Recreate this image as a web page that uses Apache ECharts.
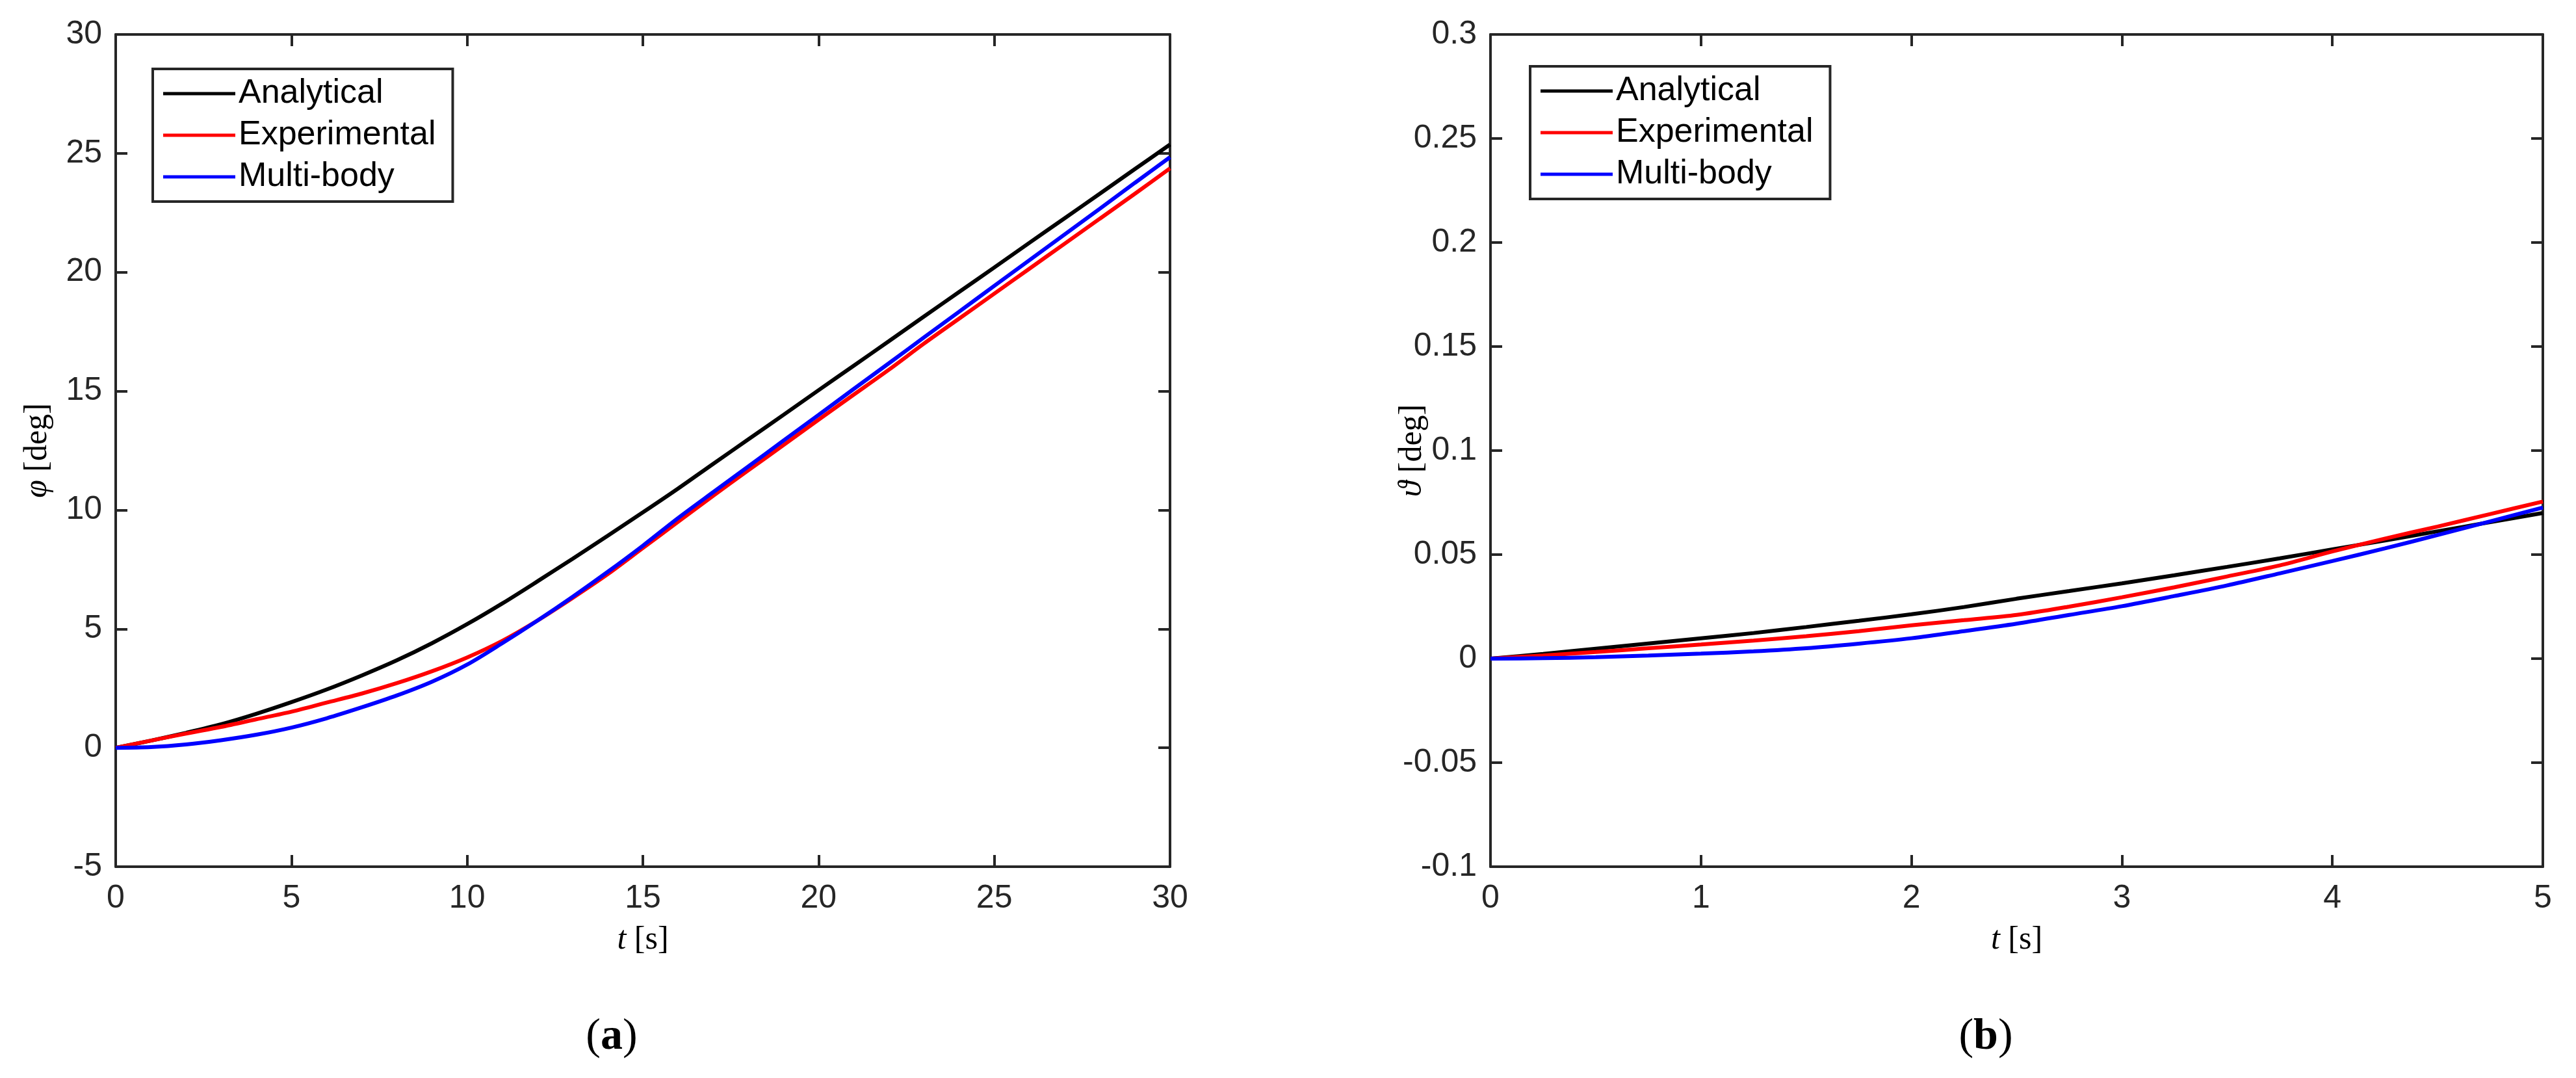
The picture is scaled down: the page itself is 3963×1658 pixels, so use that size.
<!DOCTYPE html>
<html>
<head>
<meta charset="utf-8">
<script src="https://cdn.jsdelivr.net/npm/echarts@6/dist/echarts.min.js"></script>
<style>
  html, body { margin: 0; padding: 0; background: #fff; }
  #chart { width: 3963px; height: 1658px; }
</style>
</head>
<body>
<div id="chart"></div>
<script>
// series names (legend)
const seriesNames = ['Analytical', 'Experimental', 'Multi-body']
const seriesColors = ['#000000', '#ff0000', '#0000ff']

// (a) phi [deg] vs t [s]
const tLeft = [0, 1, 2, 3, 4, 5, 6, 7, 8, 9, 10, 11, 12, 13, 14, 15, 16, 17, 18, 19, 20, 21, 22, 23, 24, 25, 26, 27, 28, 29, 30]
const phiAnalytical = [0, 0.3, 0.63, 0.99, 1.43, 1.92, 2.45, 3.04, 3.68, 4.4, 5.2, 6.07, 7.0, 7.95, 8.92, 9.9, 10.9, 11.94, 12.97, 14.0, 15.04, 16.07, 17.1, 18.14, 19.17, 20.2, 21.24, 22.27, 23.3, 24.34, 25.37]
const phiExperimental = [0, 0.3, 0.6, 0.88, 1.2, 1.52, 1.9, 2.28, 2.72, 3.22, 3.8, 4.5, 5.35, 6.3, 7.3, 8.4, 9.5, 10.6, 11.67, 12.73, 13.8, 14.85, 15.9, 17.0, 18.05, 19.1, 20.15, 21.2, 22.25, 23.3, 24.37]
const phiMultibody = [0, 0.03, 0.14, 0.32, 0.55, 0.85, 1.24, 1.7, 2.2, 2.78, 3.5, 4.4, 5.35, 6.35, 7.4, 8.5, 9.66, 10.75, 11.83, 12.92, 14.0, 15.09, 16.17, 17.26, 18.34, 19.43, 20.51, 21.59, 22.67, 23.76, 24.84]

// (b) theta [deg] vs t [s]
const tRight = [0, 0.25, 0.5, 0.75, 1, 1.25, 1.5, 1.75, 2, 2.25, 2.5, 2.75, 3, 3.25, 3.5, 3.75, 4, 4.25, 4.5, 4.75, 5]
const thetaAnalytical = [0, 0.0023, 0.0048, 0.0073, 0.0098, 0.0123, 0.0152, 0.0182, 0.0213, 0.0248, 0.0288, 0.0325, 0.0362, 0.0401, 0.0441, 0.0482, 0.0525, 0.0568, 0.0612, 0.0656, 0.0700]
const thetaExperimental = [0, 0.0015, 0.0032, 0.005, 0.0068, 0.0087, 0.0108, 0.0132, 0.016, 0.0185, 0.021, 0.025, 0.0295, 0.0343, 0.0395, 0.0448, 0.0515, 0.0577, 0.0635, 0.0695, 0.0755]
const thetaMultibody = [0, 0.0002, 0.0007, 0.0015, 0.0024, 0.0035, 0.005, 0.0072, 0.0098, 0.0132, 0.0168, 0.021, 0.0252, 0.0301, 0.0352, 0.041, 0.0469, 0.053, 0.0594, 0.066, 0.0726]

const axisColor = '#262626'
const sansFont = '"Liberation Sans", Arial, Helvetica, sans-serif'
const serifFont = '"Liberation Serif", "DejaVu Serif", serif'

function pairs(xs, ys) {
  return xs.map((x, i) => [x, ys[i]])
}

// bottom / left axis with labels
function mainAxis(extra) {
  return Object.assign({
    type: 'value',
    axisLine: { show: true, onZero: false, lineStyle: { color: axisColor, width: 4 } },
    axisTick: { show: true, inside: true, length: 18, lineStyle: { color: axisColor, width: 4 } },
    axisLabel: { show: true, color: axisColor, fontSize: 50, fontFamily: sansFont },
    splitLine: { show: false }
  }, extra)
}

// top / right axis, ticks only (matlab box)
function boxAxis(extra) {
  return Object.assign({
    type: 'value',
    axisLine: { show: true, onZero: false, lineStyle: { color: axisColor, width: 4 } },
    axisTick: { show: true, inside: true, length: 18, lineStyle: { color: axisColor, width: 4 } },
    axisLabel: { show: false },
    splitLine: { show: false }
  }, extra)
}

const nameStyle = {
  fontFamily: serifFont,
  fontSize: 50,
  color: '#000',
  rich: {
    i: { fontStyle: 'italic', fontFamily: serifFont, fontSize: 50, color: '#000' }
  }
}

function legendFor(left, top) {
  return {
    orient: 'vertical',
    left: left,
    top: top,
    padding: [10, 26, 10, 16],
    itemGap: 8,
    itemWidth: 111,
    itemHeight: 5,
    icon: 'rect',
    borderColor: axisColor,
    borderWidth: 4,
    backgroundColor: '#fff',
    selectedMode: false,
    textStyle: { fontFamily: sansFont, fontSize: 52, color: '#000', lineHeight: 56 },
    data: seriesNames
  }
}

function lineSeries(name, color, data, xi, yi) {
  return {
    name: name,
    type: 'line',
    xAxisIndex: xi,
    yAxisIndex: yi,
    data: data,
    showSymbol: false,
    symbol: 'none',
    smooth: 0.3,
    lineStyle: { color: color, width: 6 },
    itemStyle: { color: color },
    animation: false
  }
}

const chart = echarts.init(document.getElementById('chart'))

const option = {
  backgroundColor: '#fff',
  animation: false,
  grid: [
    { left: 178, top: 53, width: 1622, height: 1280, outerBoundsMode: 'none' },
    { left: 2293, top: 53, width: 1619, height: 1280, outerBoundsMode: 'none' }
  ],
  xAxis: [
    mainAxis({ gridIndex: 0, position: 'bottom', min: 0, max: 30, interval: 5,
      name: '{i|t} [s]', nameLocation: 'middle', nameGap: 88, nameTextStyle: nameStyle,
      axisLabel: { show: true, color: axisColor, fontSize: 50, fontFamily: sansFont, margin: 24 } }),
    boxAxis({ gridIndex: 0, position: 'top', min: 0, max: 30, interval: 5 }),
    mainAxis({ gridIndex: 1, position: 'bottom', min: 0, max: 5, interval: 1,
      name: '{i|t} [s]', nameLocation: 'middle', nameGap: 88, nameTextStyle: nameStyle,
      axisLabel: { show: true, color: axisColor, fontSize: 50, fontFamily: sansFont, margin: 24 } }),
    boxAxis({ gridIndex: 1, position: 'top', min: 0, max: 5, interval: 1 })
  ],
  yAxis: [
    mainAxis({ gridIndex: 0, position: 'left', min: -5, max: 30, interval: 5,
      name: '{i|φ} [deg]', nameLocation: 'middle', nameGap: 95, nameMoveOverlap: false, nameTextStyle: nameStyle,
      axisLabel: { show: true, color: axisColor, fontSize: 50, fontFamily: sansFont, margin: 21 } }),
    boxAxis({ gridIndex: 0, position: 'right', min: -5, max: 30, interval: 5 }),
    mainAxis({ gridIndex: 1, position: 'left', min: -0.1, max: 0.3, interval: 0.05,
      name: '{i|ϑ} [deg]', nameLocation: 'middle', nameGap: 95, nameMoveOverlap: false, nameTextStyle: nameStyle,
      axisLabel: { show: true, color: axisColor, fontSize: 50, fontFamily: sansFont, margin: 21 } }),
    boxAxis({ gridIndex: 1, position: 'right', min: -0.1, max: 0.3, interval: 0.05 })
  ],
  legend: [
    legendFor(235, 106),
    legendFor(2354, 102)
  ],
  series: [
    lineSeries(seriesNames[0], seriesColors[0], pairs(tLeft, phiAnalytical), 0, 0),
    lineSeries(seriesNames[1], seriesColors[1], pairs(tLeft, phiExperimental), 0, 0),
    lineSeries(seriesNames[2], seriesColors[2], pairs(tLeft, phiMultibody), 0, 0),
    lineSeries(seriesNames[0], seriesColors[0], pairs(tRight, thetaAnalytical), 2, 2),
    lineSeries(seriesNames[1], seriesColors[1], pairs(tRight, thetaExperimental), 2, 2),
    lineSeries(seriesNames[2], seriesColors[2], pairs(tRight, thetaMultibody), 2, 2)
  ],
  graphic: [
    {
      type: 'text', x: 941, y: 1595,
      style: {
        text: '({b|a})', align: 'center', verticalAlign: 'middle',
        fontFamily: serifFont, fontSize: 68, fill: '#000',
        rich: { b: { fontWeight: 'bold', fontFamily: serifFont, fontSize: 68, fill: '#000' } }
      }
    },
    {
      type: 'text', x: 3055, y: 1595,
      style: {
        text: '({b|b})', align: 'center', verticalAlign: 'middle',
        fontFamily: serifFont, fontSize: 68, fill: '#000',
        rich: { b: { fontWeight: 'bold', fontFamily: serifFont, fontSize: 68, fill: '#000' } }
      }
    }
  ]
}

chart.setOption(option)
</script>
</body>
</html>
